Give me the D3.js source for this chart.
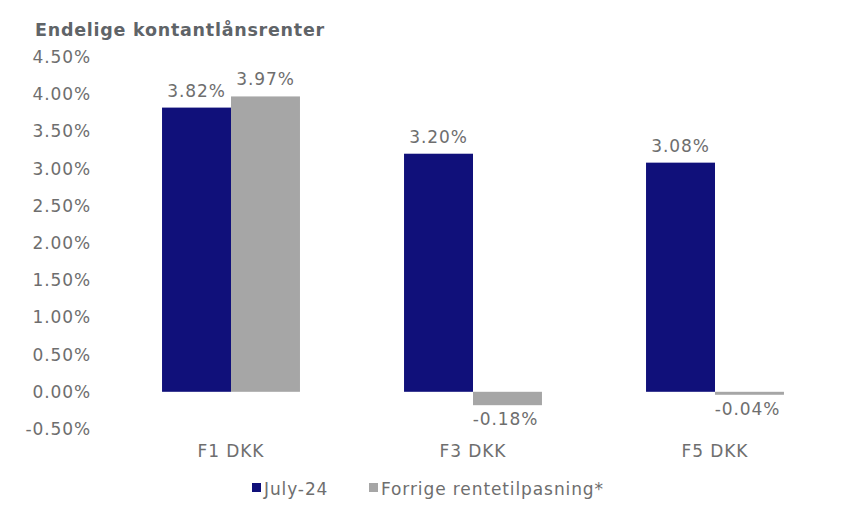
<!DOCTYPE html>
<html><head><meta charset="utf-8">
<script src="https://cdn.jsdelivr.net/npm/d3@7"></script>
<style>body{margin:0;background:#fff}svg{display:block}text{font-family:"DejaVu Sans",Verdana,sans-serif}</style>
</head><body><svg id="c" width="854" height="519"></svg>
<script>
const title = "Endelige kontantlånsrenter";
const categories = ["F1 DKK", "F3 DKK", "F5 DKK"];
const seriesNames = ["July-24", "Forrige rentetilpasning*"];
const july24 = [3.82, 3.20, 3.08];
const forrige = [3.97, -0.18, -0.04];
const yTicks = [-0.5, 0, 0.5, 1.0, 1.5, 2.0, 2.5, 3.0, 3.5, 4.0, 4.5];
const colors = ["#10107a", "#a6a6a6"];

const svg = d3.select("#c");
const x = d3.scaleBand().domain(categories).range([110, 836]).paddingInner(0.43).paddingOuter(0.215);
const xs = d3.scaleBand().domain([0,1]).range([0, x.bandwidth()]);
const y = d3.scaleLinear().domain([-0.5, 4.5]).range([429, 57]);
const txt = "#6e6e6e";
const FS = 17, LS = 0.9;

svg.append("text").attr("x", 35).attr("y", 36).attr("font-size", 17.5).attr("font-weight", "bold")
  .attr("letter-spacing", 0.75).attr("fill", "#5f6468").text(title);

const yAxis = svg.append("g").attr("transform", "translate(91,0)")
  .call(d3.axisLeft(y).tickValues(yTicks).tickSize(0).tickPadding(0).tickFormat(d => d.toFixed(2) + "%"));
yAxis.select(".domain").remove();
yAxis.selectAll("text").attr("font-size", FS).attr("letter-spacing", LS).attr("fill", txt).attr("font-family", "DejaVu Sans");

const xAxis = svg.append("g").attr("transform", "translate(0,445)")
  .call(d3.axisBottom(x).tickSize(0).tickPadding(0));
xAxis.select(".domain").remove();
xAxis.selectAll("text").attr("font-size", FS).attr("letter-spacing", LS).attr("fill", txt).attr("font-family", "DejaVu Sans");

const series = [july24, forrige];
series.forEach((vals, si) => {
  const g = svg.append("g");
  g.selectAll("rect").data(vals).join("rect")
    .attr("x", (d, i) => x(categories[i]) + xs(si))
    .attr("width", xs.bandwidth())
    .attr("y", d => y(Math.max(0, d)))
    .attr("height", d => Math.max(2, Math.abs(y(d) - y(0))))
    .attr("fill", colors[si]);
  g.selectAll("text").data(vals).join("text")
    .attr("x", (d, i) => x(categories[i]) + xs(si) + xs.bandwidth() / 2 + (si === 1 && d < 0 ? -2 : 0))
    .attr("y", d => d >= 0 ? y(d) - 11 : Math.max(y(d), y(0) + 2) + 20)
    .attr("text-anchor", "middle").attr("font-size", FS).attr("letter-spacing", LS).attr("fill", txt)
    .text(d => d.toFixed(2) + "%");
});

const leg = [{x: 252, t: seriesNames[0], c: colors[0]}, {x: 369, t: seriesNames[1], c: colors[1]}];
leg.forEach(l => {
  svg.append("rect").attr("x", l.x).attr("y", 483).attr("width", 9).attr("height", 9).attr("fill", l.c);
  svg.append("text").attr("x", l.x + 12).attr("y", 495).attr("font-size", FS).attr("letter-spacing", LS).attr("fill", txt).text(l.t);
});
</script></body></html>
